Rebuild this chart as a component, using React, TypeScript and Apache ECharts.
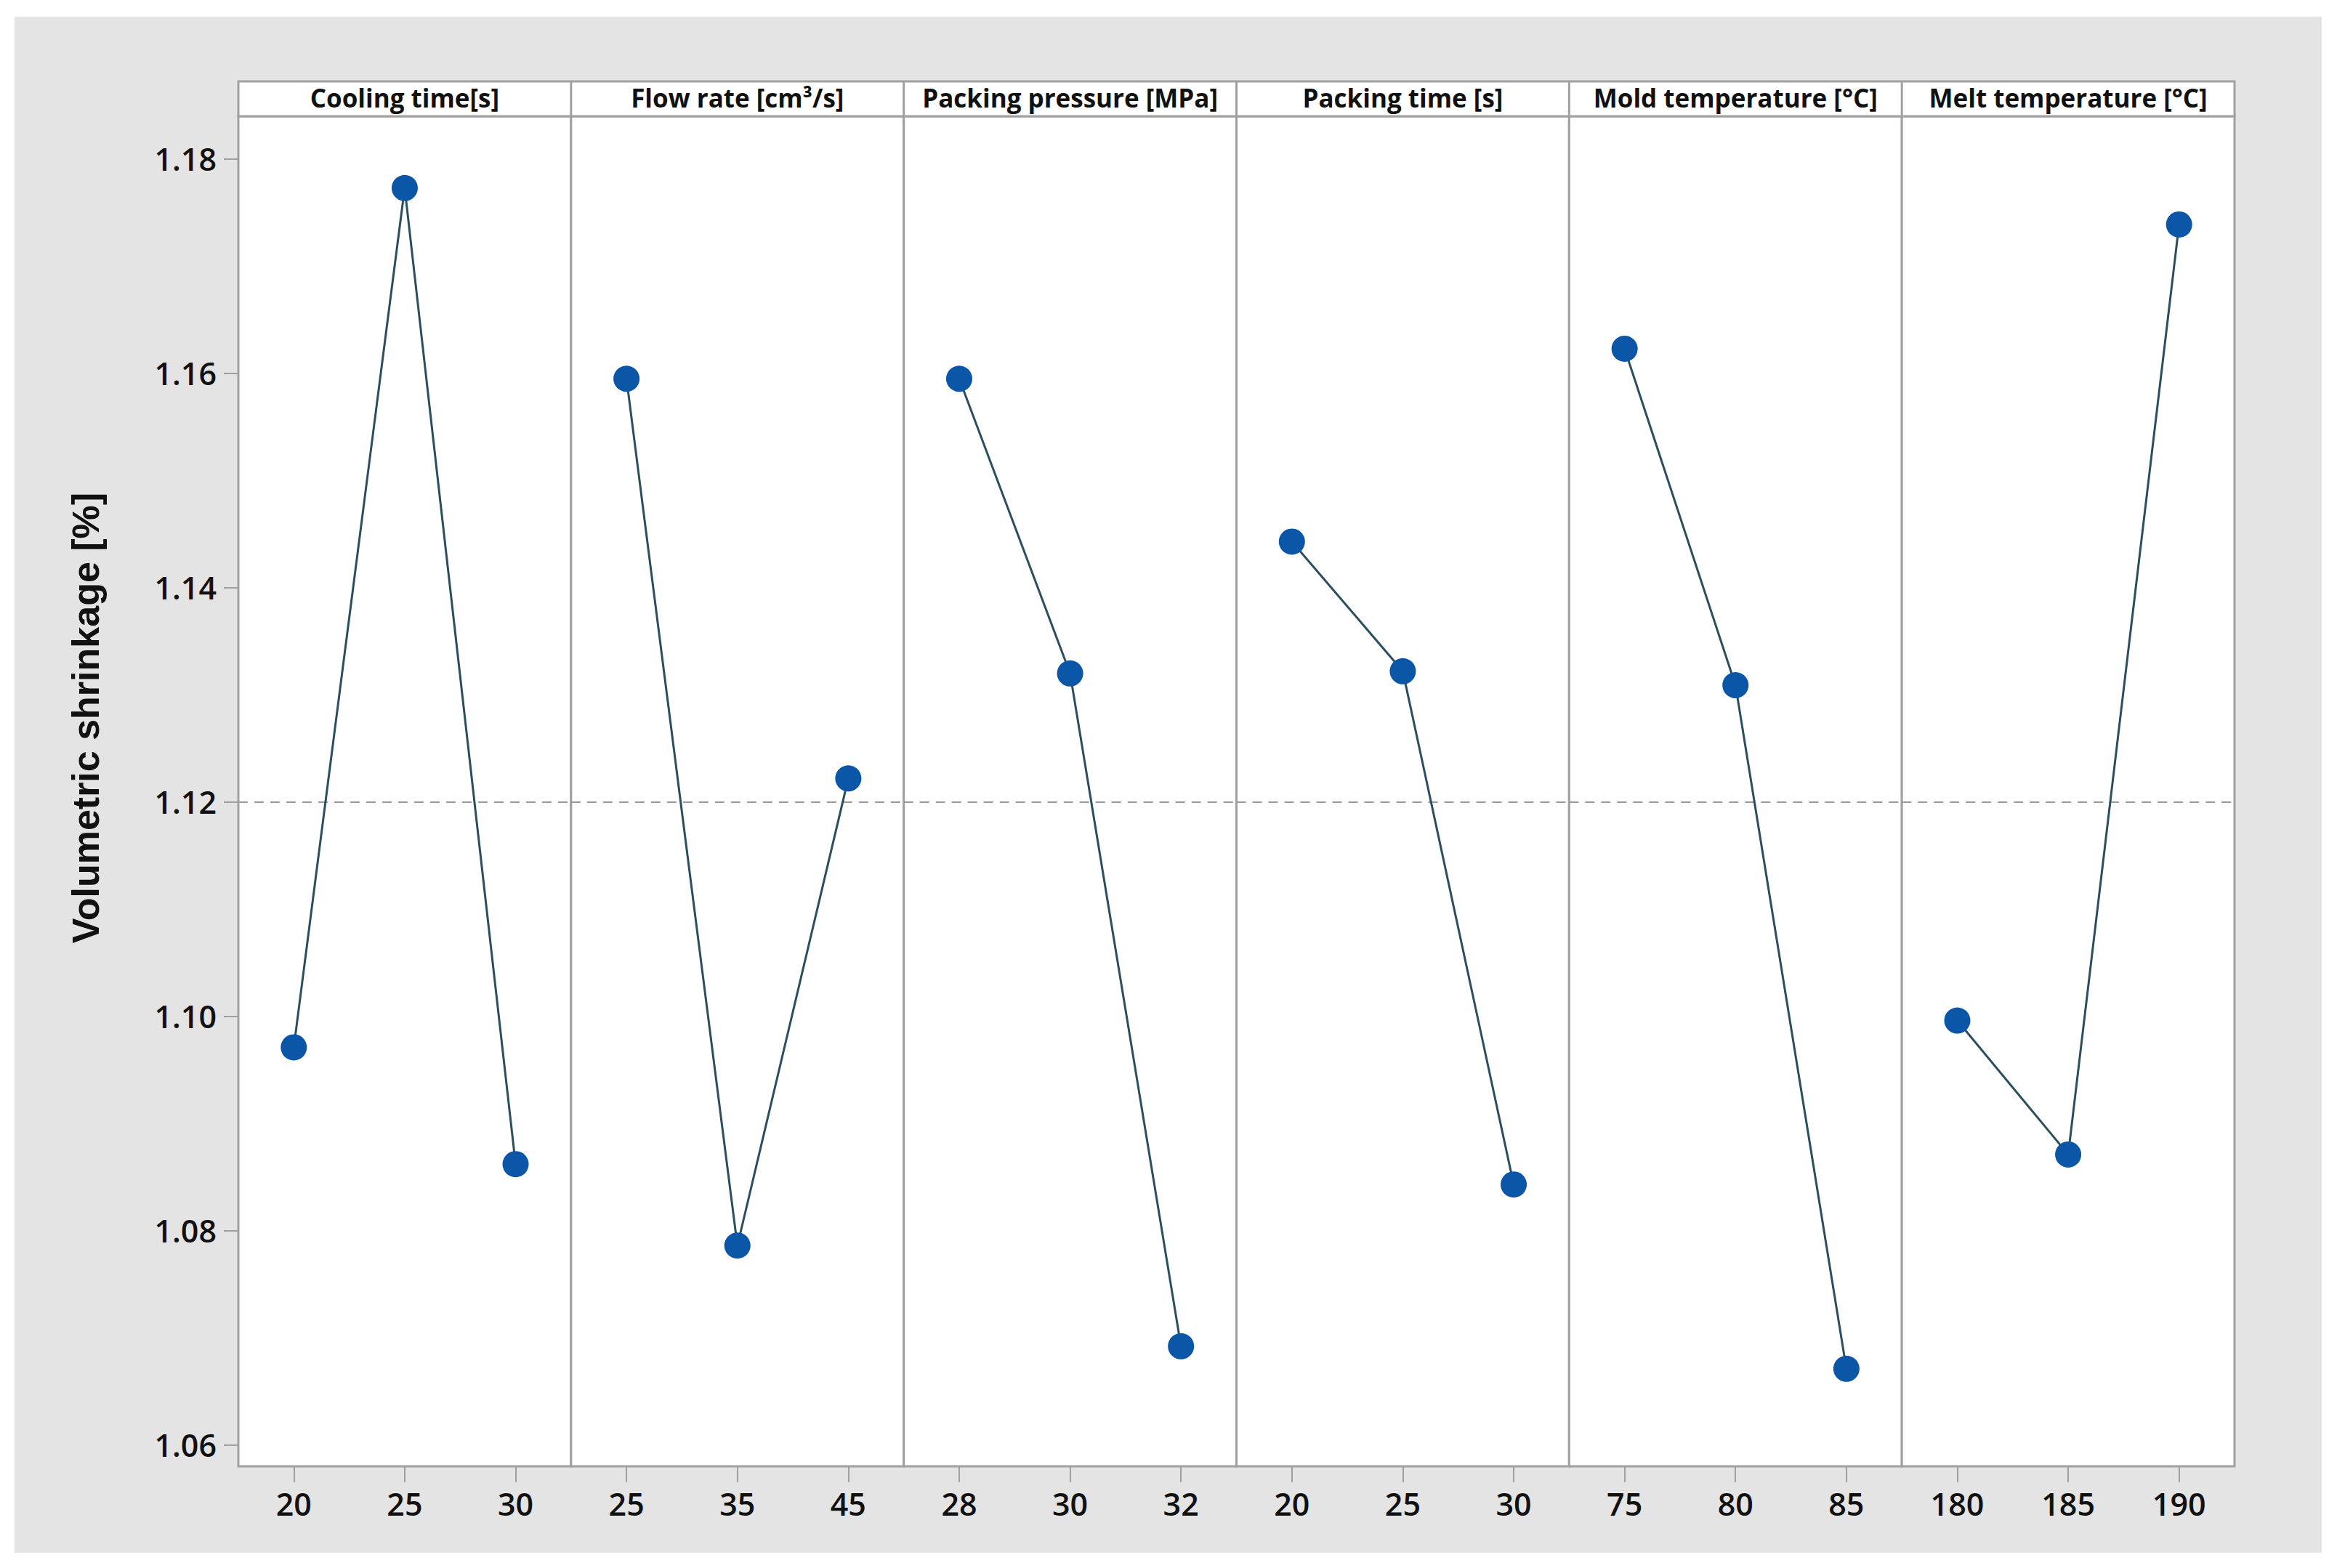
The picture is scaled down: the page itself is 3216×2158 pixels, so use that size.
import React, { useEffect, useRef } from "react";
import * as echarts from "echarts";

// ---- data ----
const factorNames = [
  "Cooling time[s]",
  "Flow rate [cm³/s]",
  "Packing pressure [MPa]",
  "Packing time [s]",
  "Mold temperature [°C]",
  "Melt temperature [°C]",
];
const coolingLevels = ["20", "25", "30"];
const flowLevels = ["25", "35", "45"];
const packPressLevels = ["28", "30", "32"];
const packTimeLevels = ["20", "25", "30"];
const moldTempLevels = ["75", "80", "85"];
const meltTempLevels = ["180", "185", "190"];

const coolingValues = [1.0971, 1.1773, 1.0862];
const flowValues = [1.1595, 1.0786, 1.1222];
const packPressValues = [1.1595, 1.132, 1.0692];
const packTimeValues = [1.1443, 1.1322, 1.0843];
const moldTempValues = [1.1623, 1.1309, 1.0671];
const meltTempValues = [1.0996, 1.0871, 1.1739];

const grandMean = 1.1202;
const yTicks = [1.06, 1.08, 1.1, 1.12, 1.14, 1.16, 1.18];
const yMin = 1.058;
const yMax = 1.184;
const yTitle = "Volumetric shrinkage [%]";

const levels = [coolingLevels, flowLevels, packPressLevels, packTimeLevels, moldTempLevels, meltTempLevels];
const values = [coolingValues, flowValues, packPressValues, packTimeValues, moldTempValues, meltTempValues];

// ---- layout ----
const W = 3216;
const H = 2158;
const PLOT_L = 328;
const PLOT_R = 3075;
const PLOT_T = 160;
const PLOT_B = 2018;
const HEAD_T = 112;
const PANEL_W = (PLOT_R - PLOT_L) / 6;
const BORDER = "#a0a0a0";
const FONT = "'Open Sans', 'Noto Sans', sans-serif";

export default function App() {
  const ref = useRef<HTMLDivElement>(null);

  useEffect(() => {
    if (!ref.current) return;
    const chart = echarts.init(ref.current, undefined, { renderer: "svg" });

    const grids: any[] = [];
    const xAxes: any[] = [];
    const yAxes: any[] = [];
    const series: any[] = [];
    const graphics: any[] = [];

    graphics.push({
      type: "rect",
      z: -100,
      shape: { x: 20, y: 23, width: 3175, height: 2114 },
      style: { fill: "#e4e4e4" },
    });
    graphics.push({
      type: "rect",
      z: 5,
      shape: { x: PLOT_L, y: HEAD_T, width: PLOT_R - PLOT_L, height: PLOT_T - HEAD_T },
      style: { fill: "#ffffff", stroke: BORDER, lineWidth: 3 },
    });

    for (let i = 0; i < 6; i++) {
      const left = PLOT_L + i * PANEL_W;
      grids.push({
        left,
        top: PLOT_T,
        width: PANEL_W,
        height: PLOT_B - PLOT_T,
        show: true,
        backgroundColor: "#ffffff",
        borderColor: BORDER,
        borderWidth: 3,
        containLabel: false,
      });
      xAxes.push({
        type: "category",
        gridIndex: i,
        data: levels[i],
        boundaryGap: true,
        axisLine: { show: false },
        axisTick: {
          show: true,
          alignWithLabel: true,
          length: 22,
          lineStyle: { color: BORDER, width: 2 },
        },
        axisLabel: {
          margin: 30,
          fontFamily: FONT,
          fontSize: 43,
          fontWeight: 600,
          color: "#111",
        },
        splitLine: { show: false },
      });
      yAxes.push({
        type: "value",
        gridIndex: i,
        min: yMin,
        max: yMax,
        axisLine: { show: false },
        splitLine: { show: false },
        axisTick: {
          show: i === 0,
          length: 20,
          customValues: yTicks,
          lineStyle: { color: BORDER, width: 2 },
        },
        axisLabel: {
          show: i === 0,
          customValues: yTicks,
          margin: 30,
          fontFamily: FONT,
          fontSize: 43,
          fontWeight: 600,
          color: "#111",
          formatter: (v: number) => v.toFixed(2),
        },
      });
      series.push({
        type: "line",
        xAxisIndex: i,
        yAxisIndex: i,
        data: values[i],
        symbol: "circle",
        symbolSize: 36,
        itemStyle: { color: "#0b56a6" },
        lineStyle: { color: "#2b4f5e", width: 3 },
        z: 3,
        markLine: {
          silent: true,
          symbol: "none",
          label: { show: false },
          lineStyle: { color: "#9a9a9a", width: 2, type: [13, 9] },
          data: [{ yAxis: grandMean }],
          z: 2,
        },
      });
      if (i > 0) {
        graphics.push({
          type: "line",
          z: 6,
          shape: { x1: left, y1: HEAD_T, x2: left, y2: PLOT_T },
          style: { stroke: BORDER, lineWidth: 3 },
        });
      }
      graphics.push({
        type: "text",
        z: 7,
        x: left + PANEL_W / 2,
        y: (HEAD_T + PLOT_T) / 2 - 2,
        style: {
          text: factorNames[i],
          fontFamily: FONT,
          fontSize: 35,
          fontWeight: "bold",
          fill: "#111",
          textAlign: "center",
          textVerticalAlign: "middle",
        },
      });
    }

    graphics.push({
      type: "text",
      z: 7,
      x: 118,
      y: 988,
      rotation: Math.PI / 2,
      style: {
        text: yTitle,
        fontFamily: "'Liberation Sans', Arial, sans-serif",
        fontSize: 52,
        fontWeight: "bold",
        fill: "#111",
        textAlign: "center",
        textVerticalAlign: "middle",
      },
    });

    chart.setOption({
      animation: false,
      backgroundColor: "#ffffff",
      grid: grids,
      xAxis: xAxes,
      yAxis: yAxes,
      series,
      graphic: graphics,
    });

    return () => chart.dispose();
  }, []);

  return (
    <div
      ref={ref}
      style={{ position: "absolute", left: 0, top: 0, width: W, height: H }}
    />
  );
}
